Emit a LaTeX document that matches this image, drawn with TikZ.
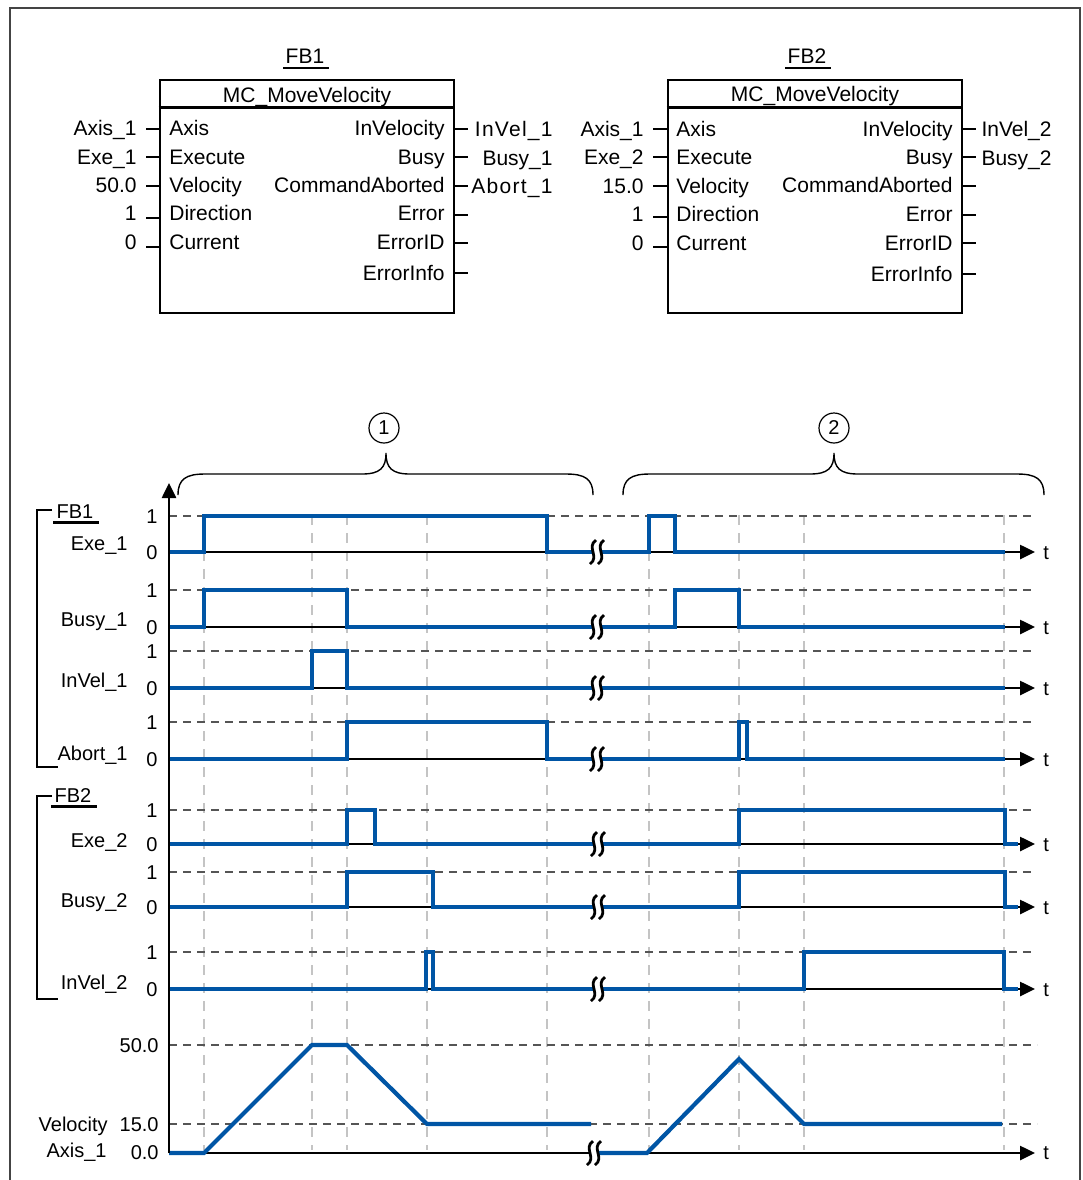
\documentclass[tikz,border=0pt]{standalone}
\usepackage{fontspec}
\setmainfont{Liberation Sans}
\usetikzlibrary{arrows.meta,positioning,calc}
\definecolor{SigBlue}{HTML}{0055A5}
\definecolor{RefGray}{HTML}{555555}
\definecolor{GridGray}{HTML}{C4C4C4}
\definecolor{FrameGray}{HTML}{444444}
\newcommand{\lblfont}{\fontsize{10}{12}\selectfont}
\newcommand{\blkfont}{\fontsize{10.5}{12.5}\selectfont}

\begin{document}
\begin{tikzpicture}[x=0.5pt, y=-0.5pt,
  txt/.style={inner sep=0pt, text height=7.2pt, text depth=0pt, font=\lblfont},
  blk/.style={inner sep=0pt, text height=7.5pt, text depth=0pt, font=\blkfont},
  spaced/.style={font=\blkfont\addfontfeature{LetterSpace=6}},
  fbbox/.style={draw, line width=1.4pt, minimum width=147pt, minimum height=116.5pt, inner sep=0pt},
  stub/.style={line width=0.9pt},
  sig/.style={SigBlue, line width=2.1pt},
  taxis/.style={line width=1.3pt, -{Triangle[length=7.5pt,width=7pt]}},
  onelevel/.style={RefGray, dash pattern=on 4pt off 3pt, line width=0.6pt},
  vgrid/.style={GridGray, dash pattern=on 5pt off 4pt, line width=0.6pt},
  curly/.style={line width=0.7pt},
  brk/.style={line width=1.4pt}]
  \useasboundingbox (0,0) rectangle (1083,1180);
  \draw[FrameGray, line width=0.8pt] (10,1180) -- (10,8) -- (1080,8) -- (1080,1180);

  % FB1 block
  \node[fbbox] (fb1) at (307,196.5) {};
  \draw[line width=1.4pt] ($(fb1.north west)+(0,29)$) -- ($(fb1.north east)+(0,29)$);
  \node[blk] (fb1type) at (307,95) {MC\_MoveVelocity};
  \node[blk] (fb1name) at (305,56) {FB1};
  \draw[line width=1.2pt] ($(fb1name.south west)+(-2,4)$) -- ($(fb1name.south east)+(4,4)$);
  \foreach \pin/\val/\py/\sy [count=\i] in {Axis/Axis\_1/128/129, Execute/Exe\_1/157/157,
      Velocity/50.0/185/186, Direction/1/213/218, Current/0/242/247} {
    \node[blk, anchor=west] (fb1in\i) at (169,\py) {\pin};
    \node[blk, anchor=east] (fb1val\i) at (137,\py) {\val};
    \draw[stub] (fb1.west |- 0,\sy) -- ++(-13,0);
  }
  \foreach \pin/\py/\sy [count=\i] in {InVelocity/128/129, Busy/157/157, CommandAborted/185/186,
      Error/213/215, ErrorID/242/243, ErrorInfo/273/273} {
    \node[blk, anchor=east] (fb1out\i) at (445,\py) {\pin};
    \draw[stub] (fb1.east |- 0,\sy) -- ++(13,0);
  }
  \node[blk, spaced, anchor=east] (fb1invel) at (553,129) {InVel\_1};
  \node[blk, anchor=east] (fb1busy) at (553,158) {Busy\_1};
  \node[blk, spaced, anchor=east] (fb1abort) at (553,186) {Abort\_1};

  % FB2 block
  \node[fbbox] (fb2) at (815,196.5) {};
  \draw[line width=1.4pt] ($(fb2.north west)+(0,29)$) -- ($(fb2.north east)+(0,29)$);
  \node[blk] (fb2type) at (815,94) {MC\_MoveVelocity};
  \node[blk] (fb2name) at (807,56) {FB2};
  \draw[line width=1.2pt] ($(fb2name.south west)+(-2,4)$) -- ($(fb2name.south east)+(4,4)$);
  \foreach \pin/\val/\py/\sy [count=\i] in {Axis/Axis\_1/129/129, Execute/Exe\_2/157/157,
      Velocity/15.0/186/186, Direction/1/214/217, Current/0/243/247} {
    \node[blk, anchor=west] (fb2in\i) at (676,\py) {\pin};
    \node[blk, anchor=east] (fb2val\i) at (644,\py) {\val};
    \draw[stub] (fb2.west |- 0,\sy) -- ++(-14,0);
  }
  \foreach \pin/\py/\sy [count=\i] in {InVelocity/129/129, Busy/157/157, CommandAborted/185/186,
      Error/214/215, ErrorID/243/243, ErrorInfo/274/274} {
    \node[blk, anchor=east] (fb2out\i) at (953,\py) {\pin};
    \draw[stub] (fb2.east |- 0,\sy) -- ++(13,0);
  }
  \node[blk, anchor=east] (fb2invel) at (1052,129) {InVel\_2};
  \node[blk, anchor=east] (fb2busy) at (1052,158) {Busy\_2};

  % phases
  \node[draw, circle, line width=0.6pt, minimum size=15pt, inner sep=0pt, font=\lblfont] (phase1) at (384,428) {1};
  \node[draw, circle, line width=0.6pt, minimum size=15pt, inner sep=0pt, font=\lblfont] (phase2) at (834,428) {2};
  \draw[curly] (178,495) .. controls (178,479) and (186,474) .. (205,474) -- (362,474)
    .. controls (380,474) and (386,468) .. (386,453) .. controls (386,468) and (392,474) .. (410,474)
    -- (566,474) .. controls (585,474) and (593,479) .. (593,495);
  \draw[curly] (623,495) .. controls (623,479) and (631,474) .. (650,474) -- (810,474)
    .. controls (828,474) and (834,468) .. (834,453) .. controls (834,468) and (840,474) .. (858,474)
    -- (1017,474) .. controls (1036,474) and (1044,479) .. (1044,495);

  % time grid
  \foreach \gx in {204,312,347,427,547,649,739,804,1004}
    \draw[vgrid] (\gx,515) -- (\gx,1150);

  % signal rows
  \foreach \k/\nm/\lo/\hi/\ly/\te/\pulses in {
      exe1/Exe\_1/552/516/543/1005/{204/547,649/675},
      busy1/Busy\_1/627/590/619/1005/{204/347,675/739},
      invel1/InVel\_1/688/651/680/1005/{312/347},
      abort1/Abort\_1/759/722/753/1005/{347/547,739/747},
      exe2/Exe\_2/844/810/840/1018/{347/375,739/1005},
      busy2/Busy\_2/907/872/900/1018/{347/433,739/1005},
      invel2/InVel\_2/989/952/982/1018/{426/433,804/1004}} {
    \draw[onelevel] (169,\hi) -- (1035,\hi);
    \draw[taxis] (169,\lo) -- (1035,\lo);
    \draw[sig] (169,\lo) foreach \a/\b in \pulses {-- (\a,\lo) -- (\a,\hi) -- (\b,\hi) -- (\b,\lo)} -- (\te,\lo);
    \node[txt, anchor=east] (row-\k) at (128,\ly) {\nm};
    \node[txt, anchor=east] (row-\k-one) at (158,\hi) {1};
    \node[txt, anchor=east] (row-\k-zero) at (158,\lo) {0};
    \node[txt, anchor=west] (row-\k-t) at (1043,\lo) {t};
  }

  % velocity of Axis_1
  \draw[onelevel] (169,1045) -- (1037,1045);
  \draw[onelevel] (169,1124) -- (1037,1124);
  \draw[taxis] (169,1153) -- (1035,1153);
  \draw[sig] (169,1153) -- (204,1153) -- (312,1045) -- (347,1045) -- (427,1124) -- (591,1124);
  \draw[sig] (598,1153) -- (647,1153) -- (739,1059) -- (804,1124) -- (1002,1124);
  \node[txt, anchor=east] (vel50) at (159,1045) {50.0};
  \node[txt, anchor=east] (vel15) at (159,1124) {15.0};
  \node[txt, anchor=east] (vel0) at (159,1152) {0.0};
  \node[txt, anchor=east] (velname) at (108,1124) {Velocity};
  \node[txt, anchor=east] (velaxis) at (107,1150) {Axis\_1};
  \node[txt, anchor=west] (velt) at (1043,1152) {t};

  % breaks
  \foreach \bx/\by in {597/552,597/627,597/688,597/759,598/844,598/907,598/989,594/1153} {
    \fill[white] (\bx-1,\by-12) .. controls (\bx-11,\by-5) and (\bx+3,\by+5) .. (\bx-7,\by+12)
      -- (\bx+1,\by+12) .. controls (\bx+11,\by+5) and (\bx-3,\by-5) .. (\bx+7,\by-12) -- cycle;
    \draw[brk] (\bx-1,\by-12) .. controls (\bx-11,\by-5) and (\bx+3,\by+5) .. (\bx-7,\by+12);
    \draw[brk] (\bx+7,\by-12) .. controls (\bx-3,\by-5) and (\bx+11,\by+5) .. (\bx+1,\by+12);
  }

  % value axis
  \draw[taxis] (169,1153) -- (169,483);

  % FB groups
  \draw[line width=0.8pt] (52,510) -- (37,510) -- (37,767) -- (58,767);
  \node[txt] (fb1tag) at (75,511) {FB1};
  \draw[line width=1.2pt] ($(fb1tag.south west)+(-3,4)$) -- ($(fb1tag.south east)+(5,4)$);
  \draw[line width=0.8pt] (52,796) -- (37,796) -- (37,999) -- (58,999);
  \node[txt] (fb2tag) at (73,795) {FB2};
  \draw[line width=1.2pt] ($(fb2tag.south west)+(-3,4)$) -- ($(fb2tag.south east)+(5,4)$);
\end{tikzpicture}
\end{document}
